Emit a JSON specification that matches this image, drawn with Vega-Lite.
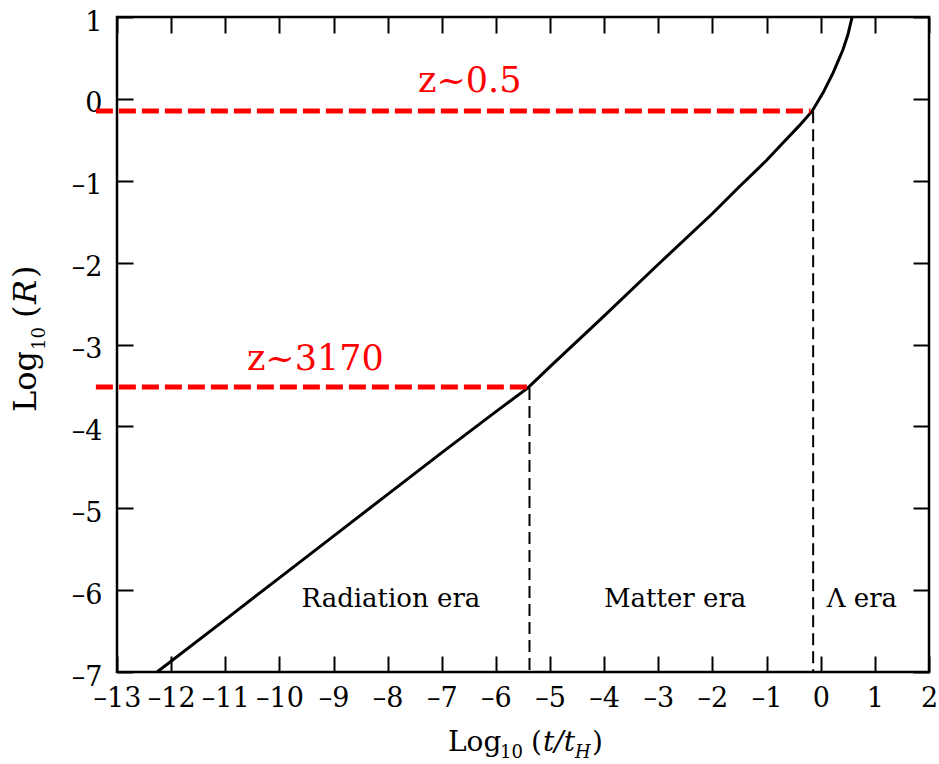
{
  "$schema": "https://vega.github.io/schema/vega-lite/v6.json",
  "width": 812,
  "height": 655,
  "autosize": {"type": "none"},
  "padding": {"left": 117, "top": 17, "right": 10, "bottom": 92},
  "background": "white",
  "config": {
    "view": {"stroke": "black", "strokeWidth": 2.5},
    "axis": {"grid": false, "domain": false, "tickColor": "black", "tickWidth": 2, "labelColor": "black", "labelFont": "DejaVu Serif", "labelFontSize": 27, "labelFlush": false, "labelOverlap": false, "title": null}
  },
  "datasets": {
    "curve": [
      {"t": -12.26, "r": -7},
      {"t": -11, "r": -6.36},
      {"t": -10, "r": -5.85},
      {"t": -9, "r": -5.34},
      {"t": -8, "r": -4.83},
      {"t": -7, "r": -4.32},
      {"t": -6, "r": -3.82},
      {"t": -5.41, "r": -3.53},
      {"t": -5, "r": -3.27},
      {"t": -4, "r": -2.65},
      {"t": -3, "r": -2.02},
      {"t": -2, "r": -1.4},
      {"t": -1.5, "r": -1.07},
      {"t": -1, "r": -0.75},
      {"t": -0.7, "r": -0.54},
      {"t": -0.4, "r": -0.33},
      {"t": -0.16, "r": -0.15},
      {"t": 0.04, "r": 0.07},
      {"t": 0.23, "r": 0.32},
      {"t": 0.41, "r": 0.6},
      {"t": 0.5, "r": 0.78},
      {"t": 0.58, "r": 1.0}
    ],
    "redlines": [
      {"x1": -13.39, "x2": -0.19, "y": -0.148},
      {"x1": -13.39, "x2": -5.42, "y": -3.52}
    ],
    "vlines": [
      {"x": -5.38, "y1": -3.53, "y2": -7},
      {"x": -0.14, "y1": -0.15, "y2": -7}
    ],
    "redtext": [
      {"x": -10.6, "y": -3.31, "label": "z~3170"},
      {"x": -7.44, "y": 0.084, "label": "z~0.5"}
    ],
    "eras": [
      {"x": -7.94, "y": -6.206, "label": "Radiation era"},
      {"x": -2.69, "y": -6.206, "label": "Matter era"},
      {"x": 0.76, "y": -6.206, "label": "Λ era"}
    ],
    "titleNormal": [
      {"x": -6.885, "y": -7.965, "label": "Log", "size": 28, "angle": 0},
      {"x": -5.924, "y": -8.05, "label": "10", "size": 18, "angle": 0},
      {"x": -5.352, "y": -7.965, "label": "(", "size": 28, "angle": 0},
      {"x": -4.225, "y": -7.965, "label": ")", "size": 28, "angle": 0},
      {"x": -14.496, "y": -3.824, "label": "Log", "size": 32, "angle": 270},
      {"x": -14.33, "y": -3.067, "label": "10", "size": 18, "angle": 270},
      {"x": -14.496, "y": -2.676, "label": "(", "size": 32, "angle": 270},
      {"x": -14.496, "y": -2.188, "label": ")", "size": 32, "angle": 270}
    ],
    "titleItalic": [
      {"x": -5.13, "y": -7.965, "label": "t/t", "size": 28, "angle": 0},
      {"x": -4.539, "y": -8.05, "label": "H", "size": 18, "angle": 0},
      {"x": -14.496, "y": -2.505, "label": "R", "size": 32, "angle": 270}
    ]
  },
  "resolve": {"axis": {"x": "independent", "y": "independent"}},
  "layer": [
    {
      "data": {"name": "curve"},
      "mark": {"type": "line", "color": "black", "strokeWidth": 3},
      "encoding": {
        "x": {"field": "t", "type": "quantitative", "scale": {"domain": [-13, 2], "nice": false, "zero": false},
          "axis": {"orient": "bottom", "values": [-13, -12, -11, -10, -9, -8, -7, -6, -5, -4, -3, -2, -1, 0, 1, 2], "tickSize": -16, "labelPadding": 29, "labelBaseline": "top", "labelExpr": "datum.value < 0 ? '–' + (-datum.value) : '' + datum.value"}},
        "y": {"field": "r", "type": "quantitative", "scale": {"domain": [-7, 1], "nice": false, "zero": false},
          "axis": {"orient": "left", "values": [-7, -6, -5, -4, -3, -2, -1, 0, 1], "tickSize": -16, "labelPadding": 31, "labelBaseline": "middle", "labelOffset": 5, "labelExpr": "datum.value < 0 ? '–' + (-datum.value) : '' + datum.value"}}
      }
    },
    {
      "data": {"name": "redlines"},
      "mark": {"type": "rule", "color": "#ff0000", "strokeWidth": 5, "strokeDash": [17, 6]},
      "encoding": {
        "x": {"field": "x1", "type": "quantitative", "axis": {"orient": "top", "values": [-13, -12, -11, -10, -9, -8, -7, -6, -5, -4, -3, -2, -1, 0, 1, 2], "tickSize": -16, "labels": false}},
        "x2": {"field": "x2"},
        "y": {"field": "y", "type": "quantitative", "axis": {"orient": "right", "values": [-7, -6, -5, -4, -3, -2, -1, 0, 1], "tickSize": -16, "labels": false}}
      }
    },
    {
      "data": {"name": "vlines"},
      "mark": {"type": "rule", "color": "black", "strokeWidth": 2, "strokeDash": [12, 6]},
      "encoding": {
        "x": {"field": "x", "type": "quantitative", "axis": null},
        "y": {"field": "y1", "type": "quantitative", "axis": null},
        "y2": {"field": "y2"}
      }
    },
    {
      "data": {"name": "redtext"},
      "mark": {"type": "text", "color": "#ff0000", "font": "DejaVu Serif", "fontSize": 35, "align": "left", "baseline": "alphabetic"},
      "encoding": {
        "x": {"field": "x", "type": "quantitative", "axis": null},
        "y": {"field": "y", "type": "quantitative", "axis": null},
        "text": {"field": "label"}
      }
    },
    {
      "data": {"name": "eras"},
      "mark": {"type": "text", "color": "black", "font": "DejaVu Serif", "fontSize": 26, "align": "center", "baseline": "alphabetic"},
      "encoding": {
        "x": {"field": "x", "type": "quantitative", "axis": null},
        "y": {"field": "y", "type": "quantitative", "axis": null},
        "text": {"field": "label"}
      }
    },
    {
      "data": {"name": "titleNormal"},
      "mark": {"type": "text", "color": "black", "font": "DejaVu Serif", "align": "left", "baseline": "alphabetic"},
      "encoding": {
        "x": {"field": "x", "type": "quantitative", "axis": null},
        "y": {"field": "y", "type": "quantitative", "axis": null},
        "text": {"field": "label"},
        "size": {"field": "size", "type": "quantitative", "scale": null, "legend": null},
        "angle": {"field": "angle", "type": "quantitative", "scale": null, "legend": null}
      }
    },
    {
      "data": {"name": "titleItalic"},
      "mark": {"type": "text", "color": "black", "font": "DejaVu Serif", "fontStyle": "italic", "align": "left", "baseline": "alphabetic"},
      "encoding": {
        "x": {"field": "x", "type": "quantitative", "axis": null},
        "y": {"field": "y", "type": "quantitative", "axis": null},
        "text": {"field": "label"},
        "size": {"field": "size", "type": "quantitative", "scale": null, "legend": null},
        "angle": {"field": "angle", "type": "quantitative", "scale": null, "legend": null}
      }
    }
  ]
}
